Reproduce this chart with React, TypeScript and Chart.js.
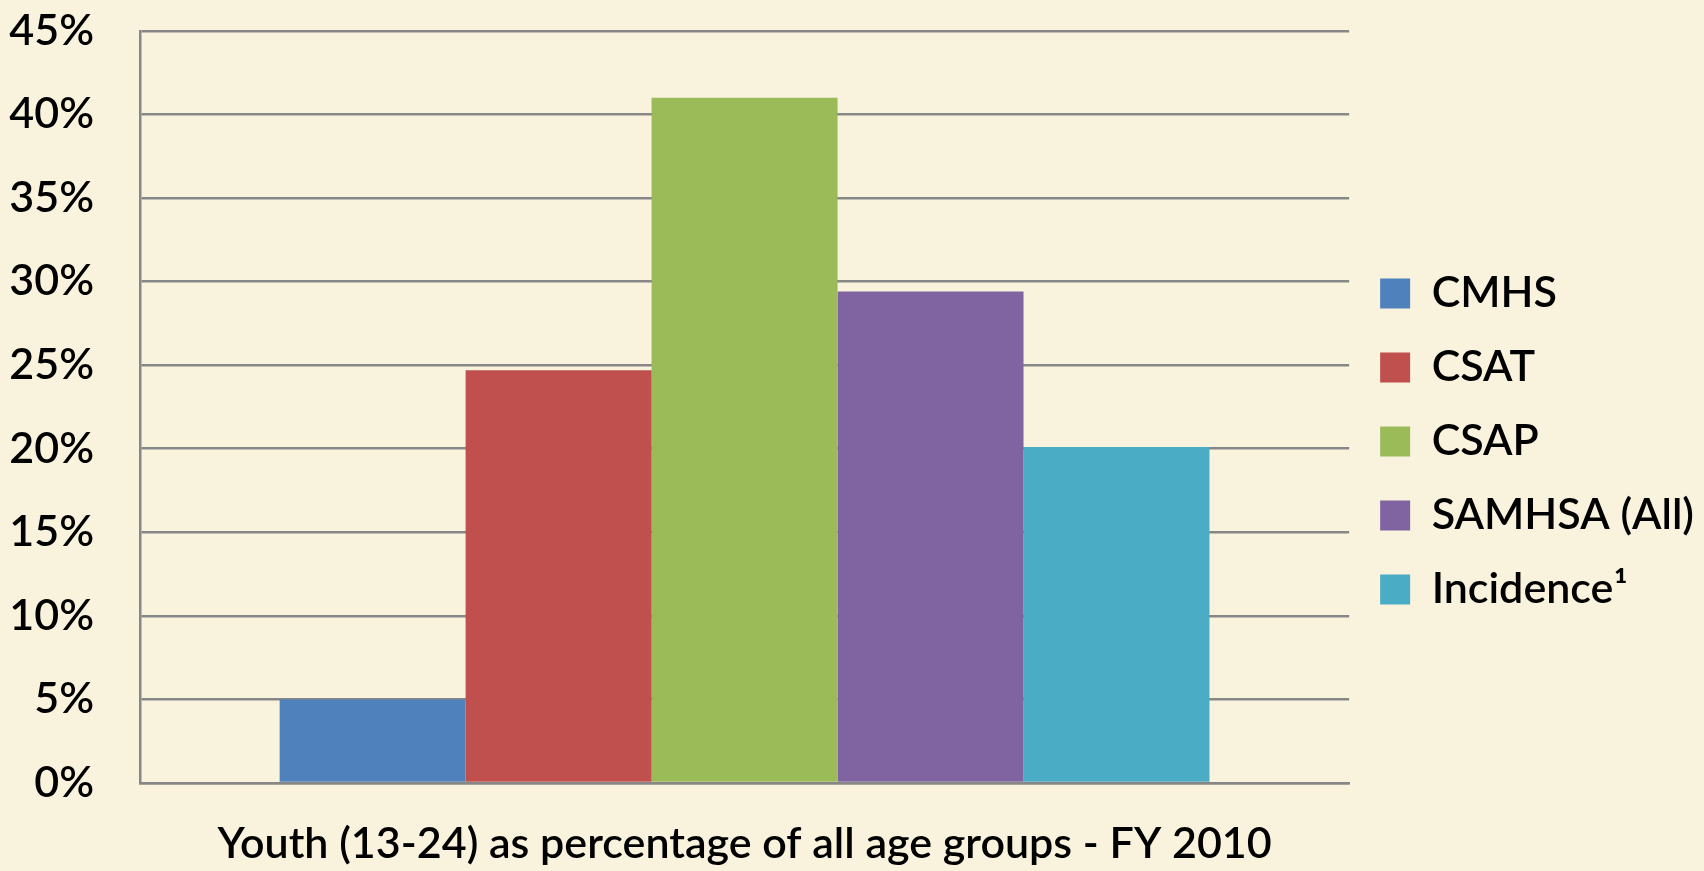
import React, { useEffect, useRef } from 'react';
import { Chart, registerables } from 'chart.js';

Chart.register(...registerables);

const categories = ['Youth (13-24) as percentage of all age groups - FY 2010'];
const seriesNames = ['CMHS', 'CSAT', 'CSAP', 'SAMHSA (All)', 'Incidence\u00B9'];
const seriesValues = [5.0, 24.7, 41.0, 29.4, 20.1];
const seriesColors = ['#4F81BD', '#C0504D', '#9BBB59', '#8064A2', '#4BACC6'];
const yMin = 0;
const yMax = 45;
const yStep = 5;

const BG = '#F9F2DD';
const GRID = '#878787';
const FONT = 'Lato, "Open Sans", sans-serif';
const FONT_SIZE = 43;
const FONT_WEIGHT = '600';

const bgPlugin = {
  id: 'bgFill',
  beforeDraw(chart: any) {
    const { ctx, width, height } = chart;
    ctx.save();
    ctx.fillStyle = BG;
    ctx.fillRect(0, 0, width, height);
    ctx.restore();
  },
};

export default function App() {
  const ref = useRef<HTMLCanvasElement | null>(null);

  useEffect(() => {
    document.documentElement.style.margin = '0';
    document.body.style.margin = '0';
    document.body.style.overflow = 'hidden';
    document.body.style.background = BG;
    if (!ref.current) return;
    const font = { family: FONT, size: FONT_SIZE, weight: FONT_WEIGHT as any };
    const chart = new Chart(ref.current, {
      type: 'bar',
      data: {
        labels: categories,
        datasets: seriesNames.map((name, i) => ({
          label: name,
          data: [seriesValues[i]],
          backgroundColor: seriesColors[i],
          borderWidth: 0,
          barPercentage: 1,
          categoryPercentage: 0.769,
        })),
      },
      options: {
        animation: false,
        responsive: true,
        maintainAspectRatio: false,
        layout: { padding: { top: 12, right: 0, bottom: 0, left: 0 } },
        plugins: {
          tooltip: { enabled: false },
          legend: {
            position: 'right',
            labels: {
              color: '#000',
              font,
              boxWidth: 30,
              boxHeight: 30,
              padding: 31,
            },
          },
        },
        scales: {
          x: {
            afterFit(scale: any) {
              scale.height = 88;
            },
            grid: { display: false, drawTicks: false },
            border: { display: true, color: GRID, width: 2.5 },
            ticks: { color: '#000', font, padding: 35, maxRotation: 0 },
          },
          y: {
            min: yMin,
            max: yMax,
            afterFit(scale: any) {
              scale.width = 140;
            },
            grid: {
              color: GRID,
              lineWidth: 2.5,
              drawTicks: true,
              tickLength: 41,
              tickColor: 'rgba(0,0,0,0)',
            },
            border: { display: true, color: GRID, width: 2.5 },
            ticks: {
              stepSize: yStep,
              color: '#000',
              font,
              padding: 5,
              callback: (v: any) => `${v}%`,
            },
          },
        },
      },
      plugins: [bgPlugin],
    });
    return () => chart.destroy();
  }, []);

  return (
    <div style={{ width: '1704px', height: '871px', position: 'relative' }}>
      <canvas ref={ref} />
    </div>
  );
}
